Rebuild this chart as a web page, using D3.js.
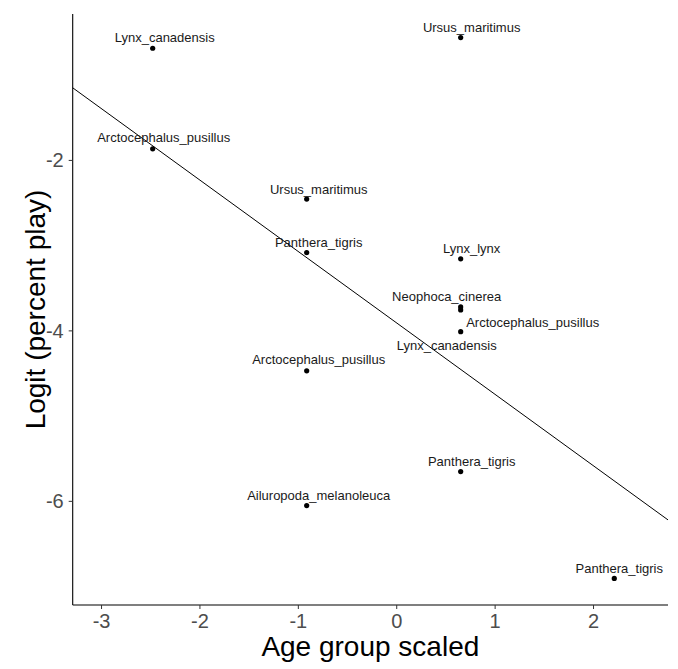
<!DOCTYPE html>
<html>
<head>
<meta charset="utf-8">
<script src="https://cdn.jsdelivr.net/npm/d3@7"></script>
<style>
  html, body { margin: 0; padding: 0; background: #fff; }
  svg { display: block; }
</style>
</head>
<body>
<svg id="chart" width="678" height="669"></svg>
<script>
// ---- data ----
const species = [
  "Lynx_canadensis", "Ursus_maritimus", "Arctocephalus_pusillus",
  "Ursus_maritimus", "Panthera_tigris", "Lynx_lynx",
  "Neophoca_cinerea", "Lynx_canadensis", "Arctocephalus_pusillus",
  "Arctocephalus_pusillus", "Panthera_tigris", "Ailuropoda_melanoleuca",
  "Panthera_tigris"
];
const ageScaled = [
  -2.475, 0.655, -2.475,
  -0.91, -0.91, 0.655,
  0.655, 0.655, 0.655,
  -0.91, 0.655, -0.91,
  2.216
];
const logitPlay = [
  -0.69, -0.565, -1.87,
  -2.46, -3.087, -3.161,
  -3.725, -3.76, -4.015,
  -4.475, -5.656, -6.055,
  -6.91
];
const fitIntercept = -3.909;
const fitSlope = -0.838;
const xTicks = [-3, -2, -1, 0, 1, 2];
const yTicks = [-2, -4, -6];

// label placement (pixel offsets of label centre from its point)
const labelDx = [12, 11, 11, 12, 12, 11, -14, -14, 72, 12, 11, 12, 5];
const labelDy = [-11, -10, -11, -10, -10, -10, -10, 36, -9, -11, -10, -10, -10];

// ---- layout ----
const svg = d3.select("#chart");
const mLeft = 72.7, mRight = 668, mTop = 14, mBottom = 605;
const x = d3.scaleLinear().domain([-3.288, 2.762]).range([mLeft, mRight]);
const y = d3.scaleLinear().domain([-7.222, -0.288]).range([mBottom, mTop]);

// regression line
const xd = x.domain();
svg.append("line")
  .attr("x1", x(xd[0])).attr("y1", y(fitIntercept + fitSlope * xd[0]))
  .attr("x2", x(xd[1])).attr("y2", y(fitIntercept + fitSlope * xd[1]))
  .attr("stroke", "#000").attr("stroke-width", 1);

// points
const idx = d3.range(species.length);
svg.append("g").selectAll("circle").data(idx).join("circle")
  .attr("cx", i => x(ageScaled[i]))
  .attr("cy", i => y(logitPlay[i]))
  .attr("r", 2.6)
  .attr("fill", "#000");

// labels
svg.append("g").selectAll("text").data(idx).join("text")
  .attr("x", i => x(ageScaled[i]) + labelDx[i])
  .attr("y", i => y(logitPlay[i]) + labelDy[i])
  .attr("text-anchor", "middle")
  .attr("dominant-baseline", "central")
  .attr("font-family", "Liberation Sans, Arial, sans-serif")
  .attr("font-size", 13)
  .attr("fill", "#1a1a1a")
  .text(i => species[i]);

// axes
const xAxis = svg.append("g")
  .attr("transform", `translate(0,${mBottom})`)
  .call(d3.axisBottom(x).tickValues(xTicks).tickSize(4).tickPadding(5).tickFormat(d3.format("d")));
const yAxis = svg.append("g")
  .attr("transform", `translate(${mLeft},0)`)
  .call(d3.axisLeft(y).tickValues(yTicks).tickSize(4).tickPadding(5).tickFormat(d3.format("d")));

[xAxis, yAxis].forEach(a => {
  a.select(".domain").attr("stroke", "#000").attr("stroke-width", 1.1)
    .attr("d", a === xAxis ? `M${mLeft},0H${mRight}` : `M0,${mTop}V${mBottom}`);
  a.selectAll(".tick line").attr("stroke", "#333");
  a.selectAll(".tick text")
    .attr("font-family", "Liberation Sans, Arial, sans-serif")
    .attr("font-size", 20)
    .attr("fill", "#4d4d4d")
    .text(d => d < 0 ? "-" + Math.abs(d) : d);
});
yAxis.selectAll(".tick text").attr("dy", "0.35em");

// axis titles
svg.append("text")
  .attr("x", (mLeft + mRight) / 2).attr("y", 656)
  .attr("text-anchor", "middle")
  .attr("font-family", "Liberation Sans, Arial, sans-serif")
  .attr("font-size", 28)
  .attr("fill", "#000")
  .text("Age group scaled");
svg.append("text")
  .attr("transform", `translate(45,${(mTop + mBottom) / 2}) rotate(-90)`)
  .attr("text-anchor", "middle")
  .attr("font-family", "Liberation Sans, Arial, sans-serif")
  .attr("font-size", 28)
  .attr("fill", "#000")
  .text("Logit (percent play)");
</script>
</body>
</html>
